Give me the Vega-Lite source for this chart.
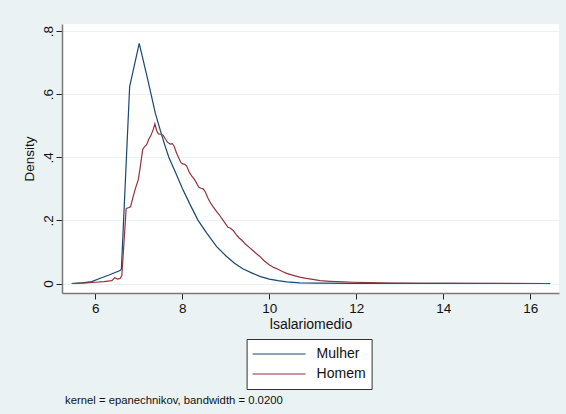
{
  "$schema": "https://vega.github.io/schema/vega-lite/v6.json",
  "width": 497,
  "height": 269,
  "autosize": {"type": "none"},
  "padding": {"left": 62, "top": 24, "right": 7, "bottom": 121},
  "background": "#eaf2f3",
  "config": {
    "font": "Liberation Sans",
    "view": {"fill": "white", "stroke": null},
    "axis": {
      "domainColor": "#7a7a7a",
      "domainWidth": 1.5,
      "tickColor": "#222222",
      "tickWidth": 1,
      "tickSize": 6,
      "labelColor": "#111111",
      "titleColor": "#111111",
      "labelFont": "Liberation Sans",
      "titleFont": "Liberation Sans",
      "titleFontWeight": "normal"
    }
  },
  "title": {
    "text": "kernel = epanechnikov, bandwidth = 0.0200",
    "orient": "bottom",
    "anchor": "start",
    "frame": "group",
    "baseline": "top",
    "offset": 5,
    "dx": 3,
    "fontSize": 11.3,
    "fontWeight": "normal",
    "font": "Liberation Sans",
    "color": "#111111"
  },
  "data": {
    "values": [
      {"x": 5.46, "d": 0.000, "g": "Mulher"},
      {"x": 5.70, "d": 0.002, "g": "Mulher"},
      {"x": 5.92, "d": 0.006, "g": "Mulher"},
      {"x": 6.10, "d": 0.016, "g": "Mulher"},
      {"x": 6.30, "d": 0.026, "g": "Mulher"},
      {"x": 6.57, "d": 0.041, "g": "Mulher"},
      {"x": 6.60, "d": 0.045, "g": "Mulher"},
      {"x": 6.79, "d": 0.624, "g": "Mulher"},
      {"x": 7.01, "d": 0.761, "g": "Mulher"},
      {"x": 7.20, "d": 0.650, "g": "Mulher"},
      {"x": 7.38, "d": 0.540, "g": "Mulher"},
      {"x": 7.50, "d": 0.483, "g": "Mulher"},
      {"x": 7.60, "d": 0.438, "g": "Mulher"},
      {"x": 7.69, "d": 0.400, "g": "Mulher"},
      {"x": 7.85, "d": 0.350, "g": "Mulher"},
      {"x": 8.00, "d": 0.302, "g": "Mulher"},
      {"x": 8.18, "d": 0.250, "g": "Mulher"},
      {"x": 8.36, "d": 0.201, "g": "Mulher"},
      {"x": 8.55, "d": 0.162, "g": "Mulher"},
      {"x": 8.79, "d": 0.117, "g": "Mulher"},
      {"x": 9.00, "d": 0.088, "g": "Mulher"},
      {"x": 9.20, "d": 0.064, "g": "Mulher"},
      {"x": 9.40, "d": 0.046, "g": "Mulher"},
      {"x": 9.62, "d": 0.032, "g": "Mulher"},
      {"x": 9.80, "d": 0.022, "g": "Mulher"},
      {"x": 10.00, "d": 0.014, "g": "Mulher"},
      {"x": 10.20, "d": 0.009, "g": "Mulher"},
      {"x": 10.40, "d": 0.005, "g": "Mulher"},
      {"x": 10.70, "d": 0.002, "g": "Mulher"},
      {"x": 11.10, "d": 0.001, "g": "Mulher"},
      {"x": 12.00, "d": 0.0003, "g": "Mulher"},
      {"x": 14.00, "d": 0.0001, "g": "Mulher"},
      {"x": 16.46, "d": 0.000, "g": "Mulher"},
      {"x": 5.46, "d": 0.000, "g": "Homem"},
      {"x": 5.80, "d": 0.002, "g": "Homem"},
      {"x": 6.00, "d": 0.004, "g": "Homem"},
      {"x": 6.20, "d": 0.006, "g": "Homem"},
      {"x": 6.38, "d": 0.009, "g": "Homem"},
      {"x": 6.45, "d": 0.018, "g": "Homem"},
      {"x": 6.51, "d": 0.014, "g": "Homem"},
      {"x": 6.57, "d": 0.016, "g": "Homem"},
      {"x": 6.61, "d": 0.025, "g": "Homem"},
      {"x": 6.66, "d": 0.130, "g": "Homem"},
      {"x": 6.71, "d": 0.238, "g": "Homem"},
      {"x": 6.76, "d": 0.240, "g": "Homem"},
      {"x": 6.81, "d": 0.243, "g": "Homem"},
      {"x": 6.86, "d": 0.270, "g": "Homem"},
      {"x": 6.92, "d": 0.300, "g": "Homem"},
      {"x": 6.99, "d": 0.330, "g": "Homem"},
      {"x": 7.04, "d": 0.375, "g": "Homem"},
      {"x": 7.09, "d": 0.425, "g": "Homem"},
      {"x": 7.13, "d": 0.433, "g": "Homem"},
      {"x": 7.18, "d": 0.440, "g": "Homem"},
      {"x": 7.23, "d": 0.457, "g": "Homem"},
      {"x": 7.28, "d": 0.470, "g": "Homem"},
      {"x": 7.33, "d": 0.487, "g": "Homem"},
      {"x": 7.37, "d": 0.506, "g": "Homem"},
      {"x": 7.41, "d": 0.485, "g": "Homem"},
      {"x": 7.45, "d": 0.474, "g": "Homem"},
      {"x": 7.51, "d": 0.473, "g": "Homem"},
      {"x": 7.56, "d": 0.470, "g": "Homem"},
      {"x": 7.61, "d": 0.458, "g": "Homem"},
      {"x": 7.66, "d": 0.448, "g": "Homem"},
      {"x": 7.72, "d": 0.442, "g": "Homem"},
      {"x": 7.77, "d": 0.443, "g": "Homem"},
      {"x": 7.81, "d": 0.436, "g": "Homem"},
      {"x": 7.87, "d": 0.413, "g": "Homem"},
      {"x": 7.93, "d": 0.395, "g": "Homem"},
      {"x": 7.97, "d": 0.383, "g": "Homem"},
      {"x": 8.01, "d": 0.379, "g": "Homem"},
      {"x": 8.06, "d": 0.378, "g": "Homem"},
      {"x": 8.10, "d": 0.372, "g": "Homem"},
      {"x": 8.16, "d": 0.353, "g": "Homem"},
      {"x": 8.22, "d": 0.340, "g": "Homem"},
      {"x": 8.28, "d": 0.330, "g": "Homem"},
      {"x": 8.33, "d": 0.318, "g": "Homem"},
      {"x": 8.38, "d": 0.305, "g": "Homem"},
      {"x": 8.43, "d": 0.302, "g": "Homem"},
      {"x": 8.48, "d": 0.300, "g": "Homem"},
      {"x": 8.53, "d": 0.290, "g": "Homem"},
      {"x": 8.60, "d": 0.268, "g": "Homem"},
      {"x": 8.65, "d": 0.255, "g": "Homem"},
      {"x": 8.71, "d": 0.243, "g": "Homem"},
      {"x": 8.79, "d": 0.228, "g": "Homem"},
      {"x": 8.87, "d": 0.214, "g": "Homem"},
      {"x": 8.94, "d": 0.200, "g": "Homem"},
      {"x": 9.00, "d": 0.188, "g": "Homem"},
      {"x": 9.05, "d": 0.178, "g": "Homem"},
      {"x": 9.10, "d": 0.176, "g": "Homem"},
      {"x": 9.17, "d": 0.168, "g": "Homem"},
      {"x": 9.24, "d": 0.155, "g": "Homem"},
      {"x": 9.30, "d": 0.145, "g": "Homem"},
      {"x": 9.37, "d": 0.137, "g": "Homem"},
      {"x": 9.45, "d": 0.125, "g": "Homem"},
      {"x": 9.56, "d": 0.112, "g": "Homem"},
      {"x": 9.63, "d": 0.104, "g": "Homem"},
      {"x": 9.70, "d": 0.095, "g": "Homem"},
      {"x": 9.79, "d": 0.085, "g": "Homem"},
      {"x": 9.88, "d": 0.072, "g": "Homem"},
      {"x": 9.99, "d": 0.060, "g": "Homem"},
      {"x": 10.10, "d": 0.051, "g": "Homem"},
      {"x": 10.20, "d": 0.045, "g": "Homem"},
      {"x": 10.30, "d": 0.038, "g": "Homem"},
      {"x": 10.40, "d": 0.032, "g": "Homem"},
      {"x": 10.55, "d": 0.026, "g": "Homem"},
      {"x": 10.70, "d": 0.020, "g": "Homem"},
      {"x": 10.85, "d": 0.016, "g": "Homem"},
      {"x": 11.00, "d": 0.013, "g": "Homem"},
      {"x": 11.17, "d": 0.009, "g": "Homem"},
      {"x": 11.40, "d": 0.007, "g": "Homem"},
      {"x": 11.70, "d": 0.005, "g": "Homem"},
      {"x": 11.93, "d": 0.004, "g": "Homem"},
      {"x": 12.30, "d": 0.003, "g": "Homem"},
      {"x": 12.80, "d": 0.0015, "g": "Homem"},
      {"x": 13.50, "d": 0.0008, "g": "Homem"},
      {"x": 14.50, "d": 0.0003, "g": "Homem"},
      {"x": 15.50, "d": 0.0001, "g": "Homem"},
      {"x": 16.41, "d": 0.000, "g": "Homem"}
    ]
  },
  "mark": {"type": "line", "strokeWidth": 1.2, "interpolate": "linear"},
  "encoding": {
    "x": {
      "field": "x",
      "type": "quantitative",
      "scale": {"domain": [5.235, 16.66], "nice": false, "zero": false},
      "axis": {
        "values": [6, 8, 10, 12, 14, 16],
        "grid": false,
        "title": "lsalariomedio",
        "titleFontSize": 14,
        "titleBaseline": "alphabetic",
        "titleY": 35.5,
        "labelFontSize": 13.5,
        "labelPadding": 2
      }
    },
    "y": {
      "field": "d",
      "type": "quantitative",
      "scale": {"domain": [-0.0301, 0.8225], "nice": false, "zero": false},
      "axis": {
        "values": [0, 0.2, 0.4, 0.6, 0.8],
        "grid": true,
        "gridColor": "#eaf2f3",
        "gridWidth": 1.2,
        "labelExpr": "datum.value == 0 ? '0' : replace(format(datum.value, '.1f'), '0.', '.')",
        "labelAngle": -90,
        "labelAlign": "center",
        "labelBaseline": "alphabetic",
        "labelPadding": 4,
        "labelFontSize": 13.5,
        "title": "Density",
        "titleFontSize": 13.5,
        "titleAngle": -90,
        "titleBaseline": "alphabetic",
        "titleX": -29,
        "titleY": 134.5,
        "titleAlign": "center"
      }
    },
    "color": {
      "field": "g",
      "type": "nominal",
      "scale": {"domain": ["Mulher", "Homem"], "range": ["#1a476f", "#90353b"]},
      "legend": {
        "title": null,
        "orient": "none",
        "legendX": 184.6,
        "legendY": 315,
        "symbolType": "stroke",
        "symbolSize": 2809,
        "symbolStrokeWidth": 1.2,
        "clipHeight": 20,
        "rowPadding": 0,
        "padding": 5,
        "labelOffset": 10,
        "labelFontSize": 14,
        "labelFont": "Liberation Sans",
        "labelColor": "#111111",
        "strokeColor": "#333333",
        "fillColor": "white"
      }
    }
  }
}
